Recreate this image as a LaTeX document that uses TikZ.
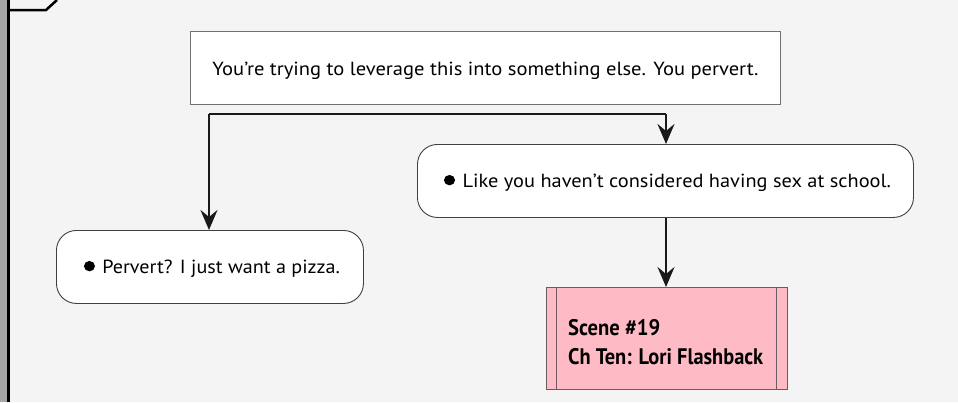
\documentclass[tikz,border=0pt]{standalone}
\usepackage{fontspec}
\usepackage{graphicx}
\setmainfont{PT Sans}
\usetikzlibrary{arrows.meta}
\definecolor{bg}{HTML}{F4F4F4}
\definecolor{bordergray}{HTML}{707070}
\definecolor{scenepink}{HTML}{FFBBC5}
\definecolor{sceneborder}{HTML}{6B5A5E}
\definecolor{leftbar}{HTML}{A8A6A4}
\newcommand{\dotbullet}{\raisebox{2.6pt}{\tikz\fill (0,0) circle (5.2pt);}\hspace{7pt}}
\newcommand{\fitw}[2]{\resizebox{#1}{\height}{#2}}
\tikzset{
  px/.style={x=1pt,y=-1pt},
  plainbox/.style={draw=bordergray, fill=white, line width=1pt, inner sep=0pt, text height=14pt, text depth=0pt},
  roundbox/.style={draw=black!75, fill=white, line width=0.9pt, rounded corners=20pt, inner sep=0pt, text height=14pt, text depth=0pt},
  scenebox/.style={draw=sceneborder, fill=scenepink, line width=0.9pt, inner sep=0pt},
  scenetext/.style={inner sep=0pt, anchor=base west, font=\fontsize{22.5}{27}\selectfont\bfseries},
  flow/.style={draw=black!90, line width=2.5pt, -{Stealth[length=20pt,width=17pt,inset=7pt]}},
  seg/.style={draw=black!90, line width=2.5pt},
  txt/.style={font=\fontsize{19}{22}\selectfont}
}
\begin{document}
\begin{tikzpicture}[px]
\fill[bg] (0,0) rectangle (958,402);
\useasboundingbox (0,0) rectangle (958,402);
\fill[leftbar] (0,0) rectangle (7,402);
\draw[line width=2.5pt,black] (8.5,0) -- (8.5,402);
\draw[line width=2.5pt,black] (8.5,10) -- (46,10) -- (57,0);

\node[plainbox, anchor=north west, minimum width=590pt, minimum height=73pt, txt] (top) at (190,31) {\fitw{546pt}{You're trying to leverage this into something else. You pervert.}};
\node[roundbox, anchor=north west, minimum width=496pt, minimum height=73pt, txt] (like) at (417,144) {\hspace{4pt}\fitw{447pt}{\dotbullet Like you haven't considered having sex at school.}};
\node[roundbox, anchor=north west, minimum width=307pt, minimum height=73pt, txt] (pizza) at (56,230) {\hspace{4pt}\fitw{256pt}{\dotbullet Pervert? I just want a pizza.}};
\node[scenebox, anchor=north west, minimum width=241pt, minimum height=102pt] (scene) at (546,287) {};
\draw[sceneborder, line width=0.9pt] ([xshift=10pt]scene.north west) -- ([xshift=10pt]scene.south west);
\draw[sceneborder, line width=0.9pt] ([xshift=-11pt]scene.north east) -- ([xshift=-11pt]scene.south east);
\node[scenetext] (scenel1) at (568,335) {\fitw{92pt}{Scene \#19}};
\node[scenetext] (scenel2) at (568,364) {\fitw{195pt}{Ch Ten: Lori Flashback}};

\coordinate (jl) at (209,114);
\coordinate (jr) at (666,114);
\draw[seg] (jl) -- (jr);
\draw[flow] (jl) -- (jl |- pizza.north);
\draw[flow] (jr) -- (jr |- like.north);
\draw[flow] (like.south -| jr) -- (jr |- scene.north);
\end{tikzpicture}
\end{document}
